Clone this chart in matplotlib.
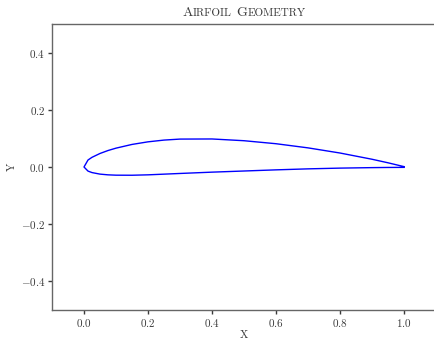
import matplotlib
matplotlib.use('Agg')
import matplotlib.pyplot as plt
from matplotlib.offsetbox import TextArea, HPacker, AnchoredOffsetbox

# NACA 4412 section, read as a closed contour (upper TE -> LE -> lower TE)
x_coords = [1.0000, 0.9500, 0.9000, 0.8000, 0.7000, 0.6000, 0.5000, 0.4000,
            0.3000, 0.2500, 0.2000, 0.1500, 0.1000, 0.0750, 0.0500, 0.0250,
            0.0125, 0.0000, 0.0125, 0.0250, 0.0500, 0.0750, 0.1000, 0.1500,
            0.2000, 0.2500, 0.3000, 0.4000, 0.5000, 0.6000, 0.7000, 0.8000,
            0.9000, 0.9500, 1.0000]
y_coords = [0.0013, 0.0147, 0.0271, 0.0489, 0.0669, 0.0814, 0.0919, 0.0980,
            0.0976, 0.0941, 0.0880, 0.0789, 0.0659, 0.0576, 0.0473, 0.0339,
            0.0244, 0.0000, -0.0143, -0.0195, -0.0249, -0.0274, -0.0286, -0.0288,
            -0.0274, -0.0250, -0.0226, -0.0180, -0.0140, -0.0100, -0.0065, -0.0039,
            -0.0022, -0.0016, -0.0013]

x_ticks = [0.0, 0.2, 0.4, 0.6, 0.8, 1.0]
y_ticks = [-0.4, -0.2, 0.0, 0.2, 0.4]

text_col = '#3a3a3a'
plt.rcParams['font.family'] = 'cmr10'
plt.rcParams['mathtext.fontset'] = 'cm'
plt.rcParams['axes.formatter.use_mathtext'] = True
plt.rcParams['axes.unicode_minus'] = True

fig = plt.figure(figsize=(4.35, 3.39), dpi=100)
ax = fig.add_axes([52/435, 29/339, 384/435, 286/339])

ax.plot(x_coords, y_coords, color='#0000ff', lw=1.0)

ax.set_xlim(-0.1, 1.1)
ax.set_ylim(-0.5, 0.5)
ax.set_xticks(x_ticks)
ax.set_yticks(y_ticks)
ax.tick_params(labelsize=8, colors=text_col, length=3, width=1, pad=2)
for s in ax.spines.values():
    s.set_color('#666666')
    s.set_linewidth(1.0)
ax.spines['right'].set_visible(False)
ax.set_xlabel('X', fontsize=8, color=text_col, labelpad=1)
ax.set_ylabel('Y', fontsize=8, color=text_col, labelpad=3)

# small caps title
parts = []
for word in ['Airfoil', 'Geometry']:
    if parts:
        parts.append(TextArea(' ', textprops=dict(fontsize=10, color=text_col)))
    parts.append(TextArea(word[0], textprops=dict(fontsize=10, color=text_col)))
    parts.append(TextArea(word[1:].upper(), textprops=dict(fontsize=8, color=text_col)))
box = HPacker(children=parts, align='baseline', pad=0, sep=0)
title = AnchoredOffsetbox(loc='lower center', child=box, pad=0, frameon=False,
                          bbox_to_anchor=(0.5, 1.0),
                          bbox_transform=ax.transAxes, borderpad=0.35)
ax.add_artist(title)

fig.savefig('out.png', dpi=100)
